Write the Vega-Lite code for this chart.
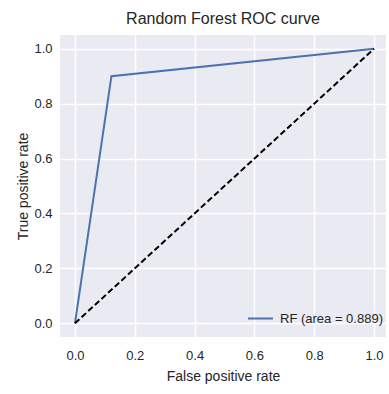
{
  "$schema": "https://vega.github.io/schema/vega-lite/v6.json",
  "width": 326,
  "height": 302,
  "autosize": "none",
  "padding": {"left": 60, "top": 35, "right": 3, "bottom": 57},
  "background": "white",
  "datasets": {
    "roc": [
      {"fpr": 0, "tpr": 0, "series": "RF (area = 0.889)"},
      {"fpr": 0.122, "tpr": 0.9, "series": "RF (area = 0.889)"},
      {"fpr": 1, "tpr": 1, "series": "RF (area = 0.889)"}
    ],
    "diag": [
      {"fpr": 0, "tpr": 0},
      {"fpr": 1, "tpr": 1}
    ]
  },
  "config": {
    "view": {"fill": "#EAEAF2", "stroke": null},
    "font": "Liberation Sans",
    "axis": {
      "domain": false,
      "ticks": false,
      "tickSize": 0,
      "gridColor": "white",
      "gridWidth": 1.5,
      "gridOpacity": 1,
      "labelFontSize": 13,
      "labelColor": "#262626",
      "titleFontSize": 14,
      "titleFontWeight": "normal",
      "titleColor": "#262626"
    }
  },
  "title": {
    "text": "Random Forest ROC curve",
    "fontSize": 16,
    "fontWeight": "normal",
    "color": "#262626",
    "offset": 8
  },
  "layer": [
    {
      "data": {"name": "roc"},
      "mark": {"type": "line", "strokeWidth": 2},
      "encoding": {
        "x": {
          "field": "fpr",
          "type": "quantitative",
          "scale": {"domain": [-0.05, 1.04], "nice": false, "zero": false},
          "axis": {"title": "False positive rate", "values": [0, 0.2, 0.4, 0.6, 0.8, 1.0], "format": ".1f", "labelPadding": 12, "titlePadding": 7}
        },
        "y": {
          "field": "tpr",
          "type": "quantitative",
          "scale": {"domain": [-0.05, 1.05], "nice": false, "zero": false},
          "axis": {"title": "True positive rate", "values": [0, 0.2, 0.4, 0.6, 0.8, 1.0], "format": ".1f", "labelPadding": 8, "titlePadding": 3}
        },
        "color": {
          "field": "series",
          "type": "nominal",
          "scale": {"range": ["#4C72B0"]},
          "legend": {
            "title": null,
            "orient": "none",
            "legendX": 187,
            "legendY": 270,
            "padding": 0,
            "symbolType": "stroke",
            "symbolSize": 625,
            "symbolStrokeWidth": 2,
            "labelFontSize": 13,
            "labelColor": "#262626",
            "labelOffset": 6,
            "labelLimit": 200
          }
        }
      }
    },
    {
      "data": {"name": "diag"},
      "mark": {"type": "line", "color": "black", "strokeWidth": 2, "strokeDash": [6, 3]},
      "encoding": {
        "x": {"field": "fpr", "type": "quantitative"},
        "y": {"field": "tpr", "type": "quantitative"}
      }
    }
  ]
}
